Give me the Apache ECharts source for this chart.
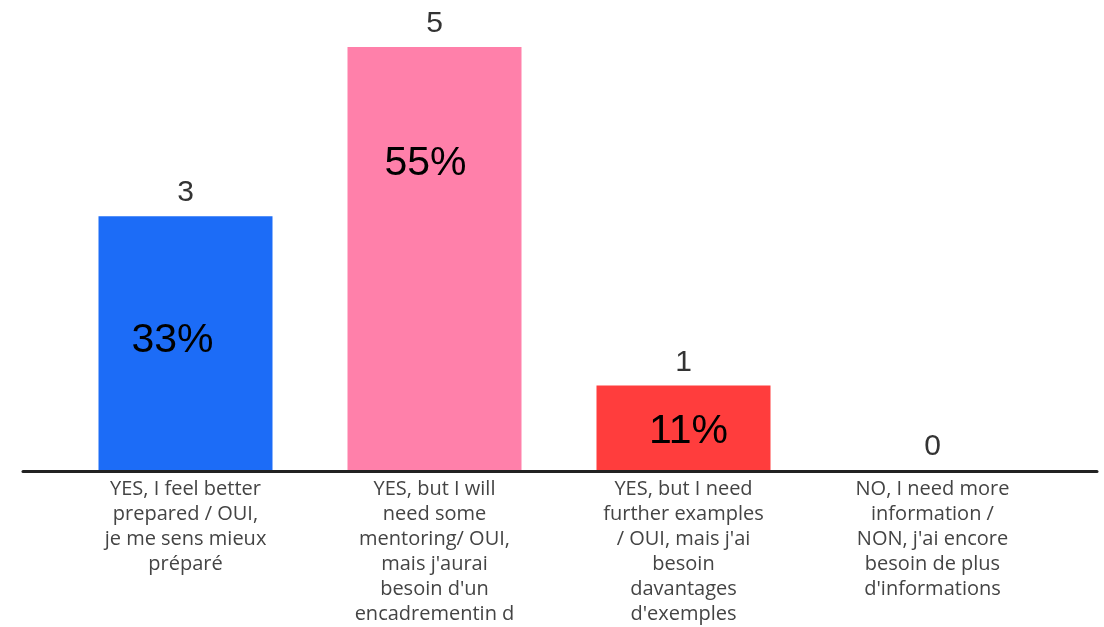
<!DOCTYPE html>
<html>
<head>
<meta charset="utf-8">
<script src="https://cdn.jsdelivr.net/npm/echarts@6/dist/echarts.min.js"></script>
<style>html,body{margin:0;padding:0;background:#fff;}#c{width:1104px;height:627px;}</style>
</head>
<body>
<div id="c"></div>
<script>
const categories = [
  "YES, I feel better\nprepared / OUI,\nje me sens mieux\npréparé",
  "YES, but I will\nneed some\nmentoring/ OUI,\nmais j'aurai\nbesoin d'un\nencadrementin d",
  "YES, but I need\nfurther examples\n/ OUI, mais j'ai\nbesoin\ndavantages\nd'exemples",
  "NO, I need more\ninformation /\nNON, j'ai encore\nbesoin de plus\nd'informations"
];
const counts = [3, 5, 1, 0];
const percents = ["33%", "55%", "11%", ""];
const barColors = ["#1c6cf7", "#ff80aa", "#ff3d3d", "#cccccc"];

const pctOffsets = [[-13, 99], [-9, 91], [5, 21], [0, 0]];

const chart = echarts.init(document.getElementById('c'));
chart.setOption({
  animation: false,
  backgroundColor: '#ffffff',
  grid: [
    { left: 61, right: 47, top: 47, bottom: 156, containLabel: false },
    { left: 23, right: 7, top: 47, bottom: 156, containLabel: false }
  ],
  xAxis: [
    {
      type: 'category', gridIndex: 0, data: categories,
      axisLine: { show: false }, axisTick: { show: false },
      axisLabel: {
        interval: 0, margin: 7, color: '#444', fontFamily: 'Open Sans',
        fontSize: 20, lineHeight: 25
      }
    },
    {
      type: 'value', gridIndex: 1, min: 0, max: 1,
      axisLine: { show: true, lineStyle: { color: '#222', width: 3 } },
      axisTick: { show: false }, axisLabel: { show: false }, splitLine: { show: false }
    }
  ],
  yAxis: [
    { type: 'value', gridIndex: 0, min: 0, max: 5, show: false, splitLine: { show: false } },
    { type: 'value', gridIndex: 1, min: 0, max: 1, show: false, splitLine: { show: false } }
  ],
  series: [
    {
      type: 'bar', xAxisIndex: 0, yAxisIndex: 0, barWidth: 174,
      data: counts.map((v, i) => ({ value: v, itemStyle: { color: barColors[i] } })),
      label: {
        show: true, position: 'top', distance: 8, color: '#333',
        fontFamily: 'Liberation Sans', fontSize: 30
      },
      z: 2
    },
    {
      type: 'bar', xAxisIndex: 0, yAxisIndex: 0, barWidth: 174, barGap: '-100%',
      data: counts.map((v, i) => ({
        value: v,
        label: { offset: pctOffsets[i], show: percents[i] !== '' }
      })),
      itemStyle: { color: 'rgba(0,0,0,0)' },
      label: {
        show: true, position: 'insideTop', distance: 5, color: '#000',
        fontFamily: 'Liberation Sans', fontSize: 41,
        formatter: p => percents[p.dataIndex]
      },
      z: 3
    }
  ]
});
</script>
</body>
</html>
